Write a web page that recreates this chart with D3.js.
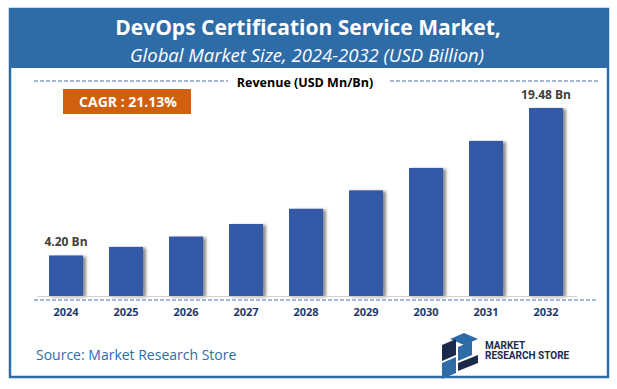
<!DOCTYPE html>
<html>
<head>
<meta charset="utf-8">
<script src="https://cdn.jsdelivr.net/npm/d3@7"></script>
<style>
  html, body { margin: 0; padding: 0; background: #fff; }
  svg { display: block; }
</style>
</head>
<body>
<div id="chart"></div>
<script>
// Chart data
const years = ['2024', '2025', '2026', '2027', '2028', '2029', '2030', '2031', '2032'];
const revenue = [4.20, 5.09, 6.16, 7.46, 9.04, 10.95, 13.27, 16.07, 19.48];
const labelledYears = ['2024', '2032'];
const titleText = 'DevOps Certification Service Market,';
const subtitleText = 'Global Market Size, 2024-2032 (USD Billion)';
const cagrText = 'CAGR : 21.13%';

const width = 617, height = 389;
const blue = '#2e6ca8';

const svg = d3.select('#chart')
    .append('svg')
    .attr('width', width)
    .attr('height', height);

// bar shadow
const defs = svg.append('defs');
defs.append('filter')
    .attr('id', 'shadow')
    .attr('x', '-20%').attr('y', '-10%')
    .attr('width', '150%').attr('height', '130%')
    .append('feDropShadow')
    .attr('dx', 3).attr('dy', 1)
    .attr('stdDeviation', 1.5)
    .attr('flood-color', '#000')
    .attr('flood-opacity', 0.45);

// frame + header
svg.append('rect')
    .attr('x', 10).attr('y', 9)
    .attr('width', 598).attr('height', 368)
    .attr('fill', '#fff')
    .attr('stroke', blue)
    .attr('stroke-width', 2.5);

svg.append('rect')
    .attr('x', 10).attr('y', 9)
    .attr('width', 598).attr('height', 59)
    .attr('fill', blue);

svg.append('text')
    .attr('x', 308).attr('y', 34.5)
    .attr('text-anchor', 'middle')
    .attr('fill', '#fff')
    .style('font-family', '"Open Sans", sans-serif')
    .style('font-weight', 'bold')
    .style('font-size', '21px')
    .text(titleText);

svg.append('text')
    .attr('x', 307).attr('y', 61.5)
    .attr('text-anchor', 'middle')
    .attr('fill', '#fff')
    .style('font-family', '"Open Sans", sans-serif')
    .style('font-style', 'italic')
    .style('font-size', '18.5px')
    .text(subtitleText);

// "Revenue" caption with dashed rules
const dash = (x1, x2, y) => svg.append('line')
    .attr('x1', x1).attr('x2', x2)
    .attr('y1', y).attr('y2', y)
    .attr('stroke', '#4a72b8')
    .attr('stroke-width', 1)
    .attr('stroke-dasharray', '4,2');

dash(34, 228, 81);
dash(390, 598, 81);

svg.append('text')
    .attr('x', 305).attr('y', 87)
    .attr('text-anchor', 'middle')
    .attr('fill', '#000')
    .style('font-family', '"Open Sans", sans-serif')
    .style('font-weight', 'bold')
    .style('font-size', '12.5px')
    .text('Revenue (USD Mn/Bn)');

// CAGR badge
svg.append('rect')
    .attr('x', 63).attr('y', 89)
    .attr('width', 128).attr('height', 25)
    .attr('fill', '#d0600d');

svg.append('text')
    .attr('x', 128).attr('y', 106.5)
    .attr('text-anchor', 'middle')
    .attr('fill', '#fff')
    .style('font-family', '"Open Sans", sans-serif')
    .style('font-weight', 'bold')
    .style('font-size', '14px')
    .text(cagrText);

// scales
const x = d3.scaleBand()
    .domain(years)
    .range([36, 576])
    .paddingInner(0.433)
    .paddingOuter(0.2165);

const y = d3.scaleLinear()
    .domain([0, 20])
    .range([296, 103]);

// bars
svg.append('g')
    .selectAll('rect')
    .data(years)
    .enter()
    .append('rect')
    .attr('x', d => x(d))
    .attr('y', (d, i) => y(revenue[i]))
    .attr('width', x.bandwidth())
    .attr('height', (d, i) => y(0) - y(revenue[i]))
    .attr('fill', '#3358a6')
    .attr('filter', 'url(#shadow)');

// baseline + dashed rule under it
svg.append('line')
    .attr('x1', 37).attr('x2', 577)
    .attr('y1', y(0) + 0.5).attr('y2', y(0) + 0.5)
    .attr('stroke', '#d0d0d0')
    .attr('stroke-width', 1);

dash(34, 598, 300);

// value labels
svg.append('g')
    .selectAll('text')
    .data(years.filter(d => labelledYears.includes(d)))
    .enter()
    .append('text')
    .attr('x', d => x(d) + x.bandwidth() / 2)
    .attr('y', d => y(revenue[years.indexOf(d)]) - 9)
    .attr('text-anchor', 'middle')
    .attr('fill', '#404040')
    .style('font-family', '"Open Sans", sans-serif')
    .style('font-weight', 'bold')
    .style('font-size', '12px')
    .text(d => revenue[years.indexOf(d)].toFixed(2) + ' Bn');

// x axis
const xAxis = svg.append('g')
    .attr('transform', 'translate(0,302)')
    .call(d3.axisBottom(x).tickSize(0).tickPadding(6));

xAxis.select('.domain').remove();
xAxis.selectAll('text')
    .attr('fill', '#1f3a6e')
    .style('font-family', '"Open Sans", sans-serif')
    .style('font-weight', 'bold')
    .style('font-size', '11px');

// source
svg.append('text')
    .attr('x', 36).attr('y', 360)
    .attr('fill', blue)
    .style('font-family', '"Open Sans", sans-serif')
    .style('font-size', '14px')
    .text('Source: Market Research Store');

// logo
const logo = svg.append('g').attr('transform', 'translate(440,333)');
logo.append('polygon')
    .attr('points', '10,6 24,0 38,6 24,12')
    .attr('fill', '#2e6ca8');
logo.append('polygon')
    .attr('points', '2,12 16,6 16,22 2,28')
    .attr('fill', '#1b2a4a');
logo.append('polygon')
    .attr('points', '18,14 32,8 32,22 18,28')
    .attr('fill', '#2e6ca8');
logo.append('polygon')
    .attr('points', '2,30 16,24 16,40 2,46')
    .attr('fill', '#2e6ca8');
logo.append('polygon')
    .attr('points', '18,30 38,22 38,30 18,38')
    .attr('fill', '#1b2a4a');

svg.append('text')
    .attr('x', 485).attr('y', 349)
    .attr('fill', '#1b2a4a')
    .style('font-family', '"Liberation Sans Narrow", "Roboto", sans-serif')
    .style('font-weight', 'bold')
    .style('font-size', '10px')
    .text('MARKET');

svg.append('text')
    .attr('x', 485).attr('y', 359)
    .attr('fill', '#1b2a4a')
    .style('font-family', '"Liberation Sans Narrow", "Roboto", sans-serif')
    .style('font-weight', 'bold')
    .style('font-size', '10px')
    .text('RESEARCH STORE');
</script>
</body>
</html>
